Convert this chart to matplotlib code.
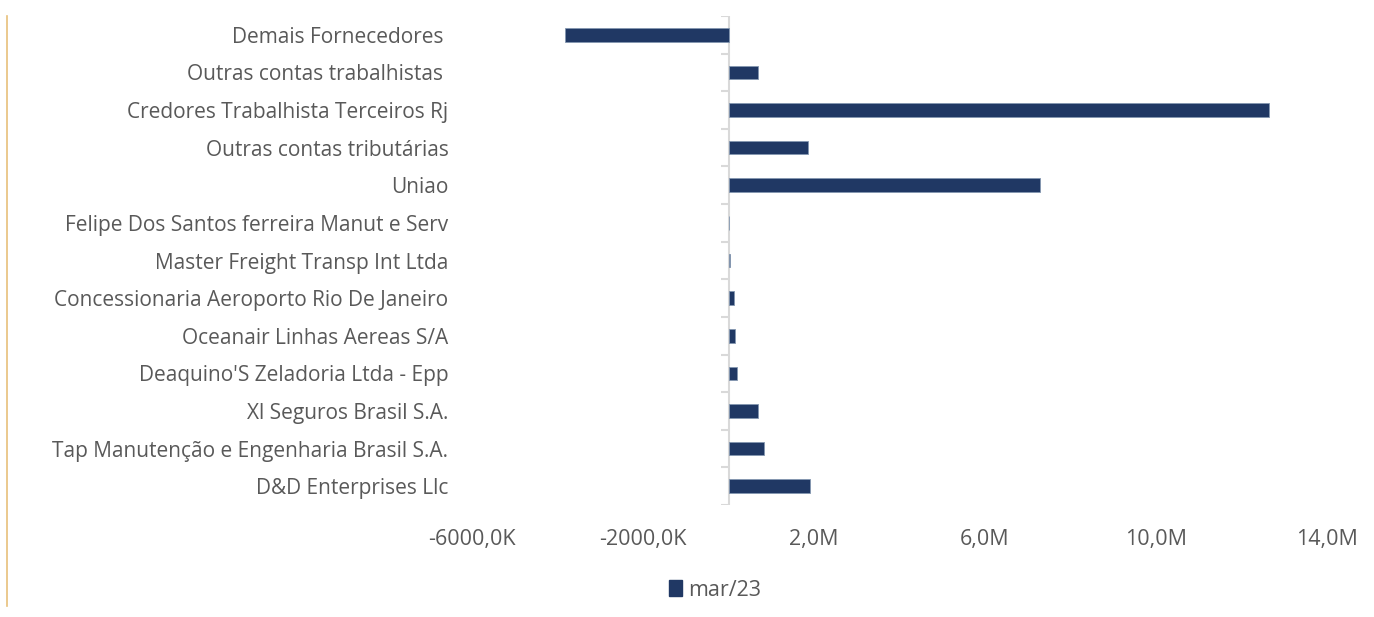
import matplotlib
matplotlib.use("Agg")
import matplotlib.pyplot as plt
from matplotlib.ticker import FuncFormatter
from matplotlib.patches import Patch
from matplotlib.lines import Line2D

categories = [
    "Demais Fornecedores ",
    "Outras contas trabalhistas ",
    "Credores Trabalhista Terceiros Rj",
    "Outras contas tributárias",
    "Uniao",
    "Felipe Dos Santos ferreira Manut e Serv",
    "Master Freight Transp Int Ltda",
    "Concessionaria Aeroporto Rio De Janeiro",
    "Oceanair Linhas Aereas S/A",
    "Deaquino'S Zeladoria Ltda - Epp",
    "Xl Seguros Brasil S.A.",
    "Tap Manutenção e Engenharia Brasil S.A.",
    "D&D Enterprises Llc",
]
values = [-3.83e6, 0.68e6, 12.65e6, 1.87e6, 7.28e6, 0.0, 0.03e6, 0.14e6, 0.16e6, 0.19e6, 0.70e6, 0.83e6, 1.90e6]
series_name = "mar/23"
x_ticks = [-6e6, -2e6, 2e6, 6e6, 10e6, 14e6]

bar_color = "#203864"
text_color = "#595959"
font = ["Open Sans", "DejaVu Sans"]

fig = plt.figure(figsize=(13.74, 6.17), dpi=100)
ax = fig.add_axes([472/1374, 1-505/617, (1327-472)/1374, (505-16)/617])

n = len(categories)
ypos = list(range(n))
ax.barh(ypos, values, height=0.36, color=bar_color, edgecolor="#8497b0", linewidth=0.6, zorder=3)
ax.set_ylim(n - 0.5, -0.5)
ax.set_xlim(-6e6, 14e6)

ax.set_yticks(ypos)
ax.set_yticklabels(categories, fontsize=15, color=text_color, family=font)
ax.tick_params(axis="y", length=0, pad=17)

def fmt(v, pos):
    if v < 0:
        return f"{v/1e3:.1f}K".replace(".", ",")
    return f"{v/1e6:.1f}M".replace(".", ",")
ax.set_xticks(x_ticks)
ax.xaxis.set_major_formatter(FuncFormatter(fmt))
ax.tick_params(axis="x", length=0, pad=17, labelsize=15.5, labelcolor=text_color)
for lab in ax.get_xticklabels():
    lab.set_family(font)

for s in ax.spines.values():
    s.set_visible(False)

# category axis at zero with boundary tick marks
ax.axvline(0, color="#d9d9d9", linewidth=1.5, zorder=2)
for b in range(n + 1):
    yb = b - 0.5
    ax.plot([-0.18e6, 0], [yb, yb], color="#d9d9d9", linewidth=1.5, zorder=2, solid_capstyle="butt")

handles = [Patch(facecolor=bar_color, edgecolor=bar_color, label=series_name)]
leg = fig.legend(handles=handles, loc="center", bbox_to_anchor=(715/1374, 1-590/617), frameon=False,
                 handlelength=0.6, handleheight=0.7, handletextpad=0.3, prop={"family": font, "size": 15.5})
for t in leg.get_texts():
    t.set_color(text_color)

# decorative frame edge at left
fig.add_artist(Line2D([7/1374, 7/1374], [1-16/617, 1-606/617], transform=fig.transFigure,
                      color="#e8c07a", linewidth=1.2))

fig.savefig("out.png", dpi=100)
